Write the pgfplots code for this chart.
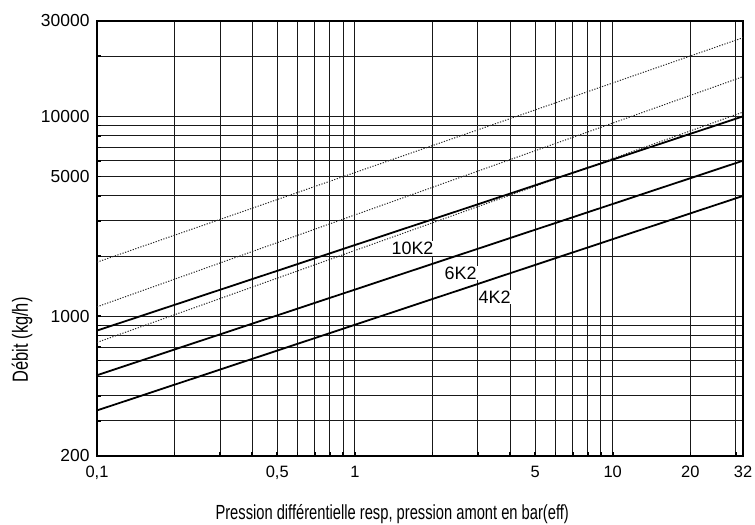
\documentclass[border=0pt]{standalone}
\usepackage{fontspec}
\setmainfont{Liberation Sans}
\newfontfamily\narrowfont{Liberation Sans}[FakeStretch=0.72]
\newfontfamily\narrowfontb{Liberation Sans}[FakeStretch=0.75]
\usepackage{pgfplots}
\pgfplotsset{compat=1.18}
\begin{document}
\begin{tikzpicture}
\useasboundingbox (-97bp,-69bp) rectangle (658bp,456bp);
\begin{axis}[
  at={(0,0)}, anchor=south west,
  scale only axis, width=646bp, height=435bp,
  xmode=log, ymode=log,
  xmin=0.1, xmax=32, ymin=200, ymax=30000,
  xtick={0.1,0.5,1,5,10,20,32},
  xticklabels={{0,1},{0,5},1,5,10,20,32},
  minor xtick={0.2,0.3,0.4,0.6,0.7,0.8,0.9,2,3,4,6,7,8,9,30},
  ytick={200,1000,5000,10000,30000},
  yticklabels={200,1000,5000,10000,30000},
  minor ytick={300,400,500,600,700,800,900,2000,3000,4000,6000,7000,8000,9000,20000},
  grid=both,
  major grid style={black!90, line width=1bp},
  minor grid style={black!90, line width=1bp},
  tick align=inside,
  xtick pos=bottom, ytick pos=left,
  major tick length=4bp, minor tick length=4bp,
  tick style={black, line width=1.6bp},
  axis line style={black, line width=1.8bp},
  xticklabel style={font=\fontsize{16.5}{19}\selectfont, yshift=-7bp},
  yticklabel style={font=\fontsize{17.5}{20}\selectfont, xshift=-4bp},
  xlabel={Pression différentielle resp, pression amont en bar(eff)},
  xlabel style={at={(axis description cs:0.457,-0.133)}, anchor=center,
    font=\narrowfont\fontsize{20.5}{22}\selectfont},
  ylabel={Débit (kg/h)},
  ylabel style={at={(axis description cs:-0.116,0.267)}, anchor=center,
    font=\narrowfontb\fontsize{22}{24}\selectfont},
]
% dotted curves
\addplot[black!85, line width=1bp, dash pattern=on 1.2bp off 1.5bp] coordinates {(0.1,1865) (32,24750)};
\addplot[black!85, line width=1bp, dash pattern=on 1.2bp off 1.5bp] coordinates {(0.1,1115) (32,15800)};
\addplot[black!85, line width=1bp, dash pattern=on 1.2bp off 1.5bp] coordinates {(0.1,740) (32,10500)};
% solid curves
\addplot[black, line width=1.8bp] coordinates {(0.1,848) (32,10000)};
\addplot[black, line width=1.8bp] coordinates {(0.1,507) (32,6000)};
\addplot[black, line width=1.8bp] coordinates {(0.1,338) (32,4000)};
\node[fill=white, inner sep=1bp, font=\fontsize{18}{20}\selectfont] at (axis cs:1.673,2190) {10K2};
\node[fill=white, inner sep=1bp, font=\fontsize{18}{20}\selectfont] at (axis cs:2.57,1648) {6K2};
\node[fill=white, inner sep=1bp, font=\fontsize{18}{20}\selectfont] at (axis cs:3.48,1250) {4K2};
\end{axis}
\end{tikzpicture}
\end{document}
